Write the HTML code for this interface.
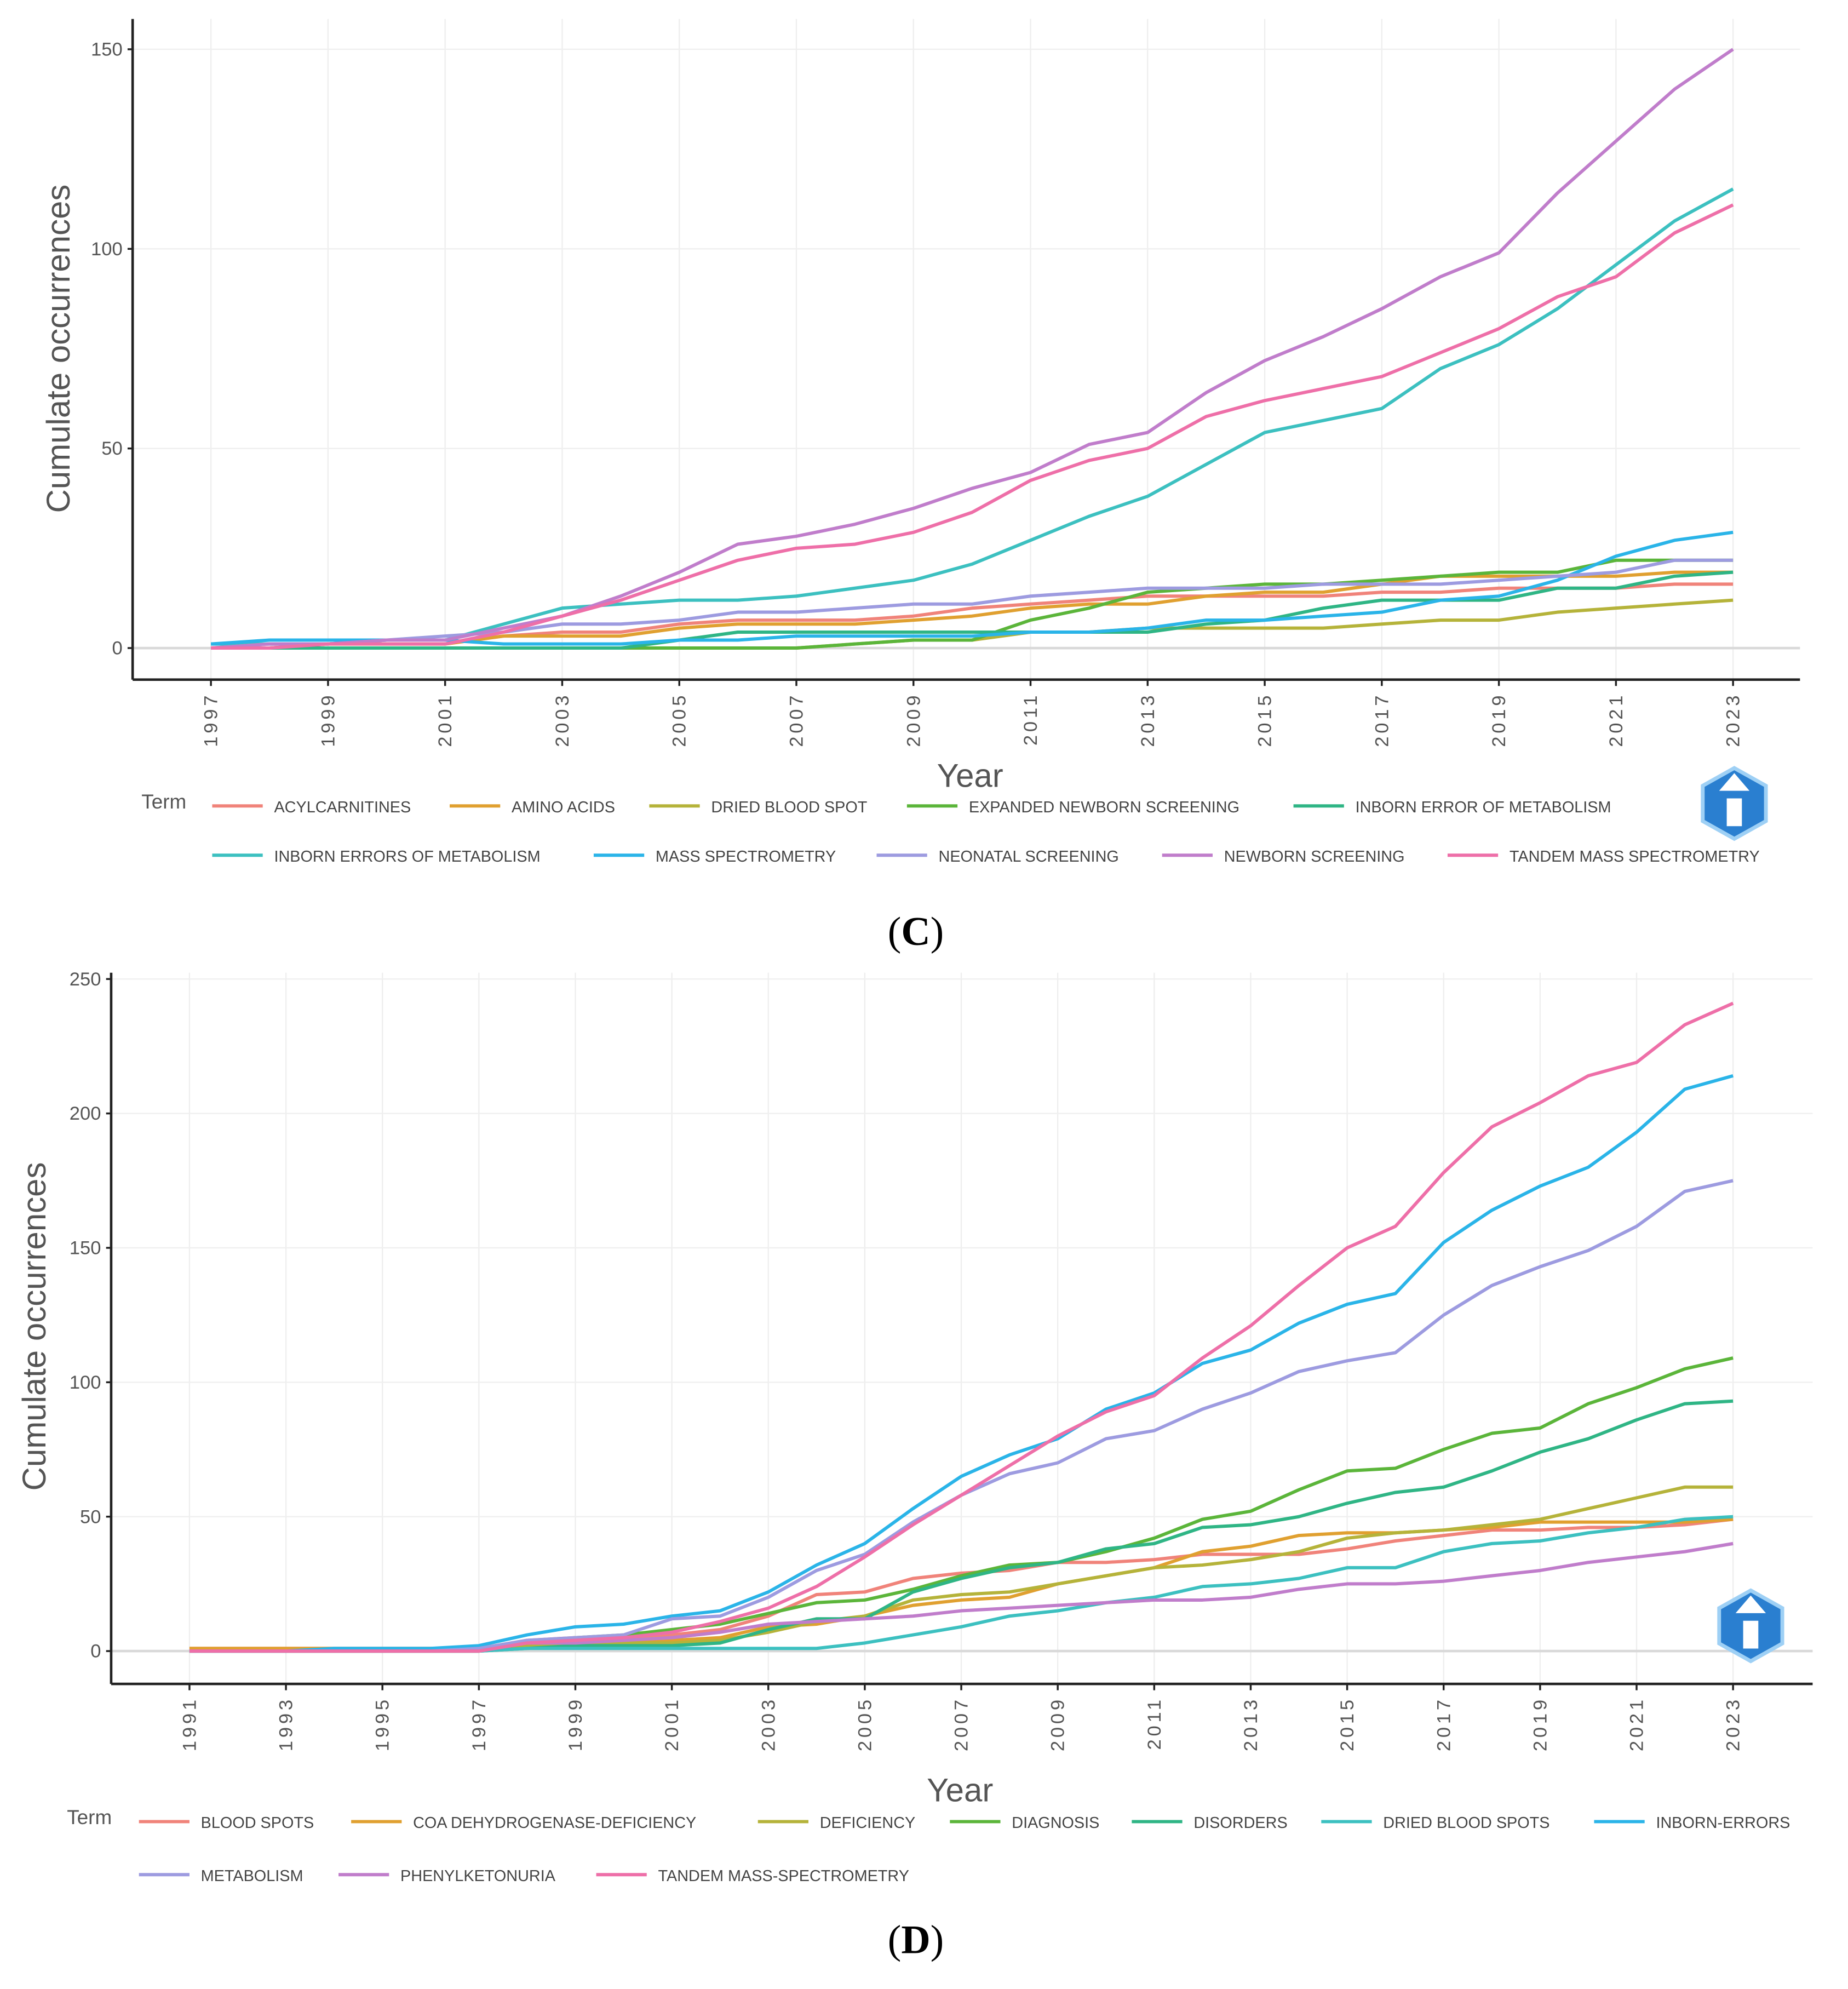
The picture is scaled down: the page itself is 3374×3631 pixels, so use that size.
<!DOCTYPE html>
<html><head><meta charset="utf-8"><style>
html,body{margin:0;padding:0;background:#fff}
svg{display:block}
text{font-family:"Liberation Sans",sans-serif}
</style></head><body>
<svg id="s" width="3374" height="3631" viewBox="0 0 1463 1574.5" preserveAspectRatio="none" xmlns="http://www.w3.org/2000/svg">
<rect width="1463" height="1574.5" fill="#fff"/>
<text x="725" y="748" text-anchor="middle" font-size="32" style="font-family:'Liberation Serif',serif">(<tspan font-weight="bold">C</tspan>)</text>
<text x="725" y="1546" text-anchor="middle" font-size="32" style="font-family:'Liberation Serif',serif">(<tspan font-weight="bold">D</tspan>)</text>
</svg>
<script>
const cYears=[];for(let y=1997;y<=2023;y++)cYears.push(y);
const cTerms=["ACYLCARNITINES","AMINO ACIDS","DRIED BLOOD SPOT","EXPANDED NEWBORN SCREENING","INBORN ERROR OF METABOLISM","INBORN ERRORS OF METABOLISM","MASS SPECTROMETRY","NEONATAL SCREENING","NEWBORN SCREENING","TANDEM MASS SPECTROMETRY"];
const cAcyl=[0,0,1,1,1,3,4,4,6,7,7,7,8,10,11,12,13,13,13,13,14,14,15,15,15,16,16];
const cAmino=[0,0,1,1,1,3,3,3,5,6,6,6,7,8,10,11,11,13,14,14,16,18,18,18,18,19,19];
const cDbs=[0,0,0,0,0,0,0,0,0,0,0,1,2,2,4,4,5,5,5,5,6,7,7,9,10,11,12];
const cExp=[0,0,0,0,0,0,0,0,0,0,0,1,2,2,7,10,14,15,16,16,17,18,19,19,22,22,22];
const cIem=[0,0,0,0,0,0,0,0,2,4,4,4,4,4,4,4,4,6,7,10,12,12,12,15,15,18,19];
const cIems=[1,1,1,2,2,6,10,11,12,12,13,15,17,21,27,33,38,46,54,57,60,70,76,85,96,107,115];
const cMs=[1,2,2,2,2,1,1,1,2,2,3,3,3,3,4,4,5,7,7,8,9,12,13,17,23,27,29];
const cNeo=[0,1,1,2,3,4,6,6,7,9,9,10,11,11,13,14,15,15,15,16,16,16,17,18,19,22,22];
const cNbs=[0,1,1,2,2,5,8,13,19,26,28,31,35,40,44,51,54,64,72,78,85,93,99,114,127,140,150];
const cTms=[0,0,1,1,1,4,8,12,17,22,25,26,29,34,42,47,50,58,62,65,68,74,80,88,93,104,111];
const cSeries=[cAcyl,cAmino,cDbs,cExp,cIem,cIems,cMs,cNeo,cNbs,cTms];
const cYTicks=[0,50,100,150];
const cXTicks=[1997,1999,2001,2003,2005,2007,2009,2011,2013,2015,2017,2019,2021,2023];

const dYears=[];for(let y=1991;y<=2023;y++)dYears.push(y);
const dTerms=["BLOOD SPOTS","COA DEHYDROGENASE-DEFICIENCY","DEFICIENCY","DIAGNOSIS","DISORDERS","DRIED BLOOD SPOTS","INBORN-ERRORS","METABOLISM","PHENYLKETONURIA","TANDEM MASS-SPECTROMETRY"];
const dBlood=[1,1,1,1,1,1,1,4,5,5,6,8,13,21,22,27,29,30,33,33,34,36,36,36,38,41,43,45,45,46,46,47,49];
const dCoa=[1,1,1,1,1,1,1,2,3,4,4,5,9,10,13,17,19,20,25,28,31,37,39,43,44,44,45,46,48,48,48,48,49];
const dDef=[0,0,0,0,0,0,0,2,3,3,3,4,7,11,13,19,21,22,25,28,31,32,34,37,42,44,45,47,49,53,57,61,61];
const dDiag=[0,0,0,0,0,0,0,3,5,6,8,10,14,18,19,23,28,32,33,37,42,49,52,60,67,68,75,81,83,92,98,105,109];
const dDis=[0,0,0,0,0,0,0,1,2,2,2,3,8,12,12,22,27,31,33,38,40,46,47,50,55,59,61,67,74,79,86,92,93];
const dDbs=[0,0,0,0,0,0,0,1,1,1,1,1,1,1,3,6,9,13,15,18,20,24,25,27,31,31,37,40,41,44,46,49,50];
const dInborn=[0,0,0,1,1,1,2,6,9,10,13,15,22,32,40,53,65,73,79,90,96,107,112,122,129,133,152,164,173,180,193,209,214];
const dMetab=[0,0,0,0,0,0,1,4,5,6,12,13,20,30,36,48,58,66,70,79,82,90,96,104,108,111,125,136,143,149,158,171,175];
const dPku=[0,0,0,0,0,0,0,3,3,4,5,7,10,11,12,13,15,16,17,18,19,19,20,23,25,25,26,28,30,33,35,37,40];
const dTandem=[0,0,0,0,0,0,0,3,4,5,7,11,16,24,35,47,58,69,80,89,95,109,121,136,150,158,178,195,204,214,219,233,241];
const dSeries=[dBlood,dCoa,dDef,dDiag,dDis,dDbs,dInborn,dMetab,dPku,dTandem];
const dYTicks=[0,50,100,150,200,250];
const dXTicks=[1991,1993,1995,1997,1999,2001,2003,2005,2007,2009,2011,2013,2015,2017,2019,2021,2023];

const colors=["#F0837A","#E0A030","#B5B33A","#5BB53A","#2FB585","#3CC0C0","#2AB4E8","#9D9BE0","#C07DCB","#EE6FA8"];
const NS="http://www.w3.org/2000/svg";
const svg=document.getElementById('s');
function el(tag,attrs,parent,txt){const e=document.createElementNS(NS,tag);for(const k in attrs)e.setAttribute(k,attrs[k]);if(txt!==undefined)e.textContent=txt;(parent||svg).appendChild(e);return e;}

function chart(cfg){
  const g=el('g',{});
  
  
  const X=v=>cfg.x0+(v-cfg.xmin)*(cfg.x1-cfg.x0)/(cfg.xmax-cfg.xmin);
  const Y=v=>cfg.y0+(v-0)*(cfg.y1-cfg.y0)/(cfg.ymax);
  // grid
  for(let yr=cfg.xmin;yr<=cfg.xmax;yr+=2){const l=el('line',{x1:X(yr),x2:X(yr),y1:cfg.top,y2:cfg.axisY,stroke:'#eeeeee','stroke-width':1},g);}
  cfg.yticks.forEach(t=>{const l=el('line',{x1:cfg.axisX,x2:cfg.right,y1:Y(t),y2:Y(t),stroke:t===0?'#d9d9d9':'#efefef','stroke-width':t===0?2:1},g);});
  // series
  cfg.series.forEach((s,i)=>{
    const pts=s.map((v,j)=>X(cfg.years[j]).toFixed(1)+','+Y(v).toFixed(1)).join(' ');
    const p=el('polyline',{points:pts,fill:'none',stroke:colors[i],'stroke-width':2.6,'stroke-linejoin':'round'},g);
    
    
  });
  // axes
  const ya=el('line',{x1:cfg.axisX,x2:cfg.axisX,y1:cfg.top,y2:cfg.axisY,stroke:'#222','stroke-width':2},g);
  
  const xa=el('line',{x1:cfg.axisX,x2:cfg.right,y1:cfg.axisY,y2:cfg.axisY,stroke:'#222','stroke-width':2},g);
  
  cfg.yticks.forEach(t=>{
    el('line',{x1:cfg.axisX-4,x2:cfg.axisX,y1:Y(t),y2:Y(t),stroke:'#222','stroke-width':1.5},g);
    const tx=el('text',{x:cfg.axisX-8,y:Y(t)+5,'text-anchor':'end','font-size':15,fill:'#555'},g,t);
    
  });
  cfg.xticks.forEach(t=>{
    el('line',{x1:X(t),x2:X(t),y1:cfg.axisY,y2:cfg.axisY+5,stroke:'#222','stroke-width':1.5},g);
    const tx=el('text',{x:0,y:0,'text-anchor':'end','font-size':15,fill:'#555','letter-spacing':'2.5',transform:`translate(${X(t)+5},${cfg.axisY+10}) rotate(-90)`},g,t);
    
  });
  const yt=el('text',{x:0,y:0,'text-anchor':'middle','font-size':26,fill:'#555',transform:`translate(${cfg.ytitleX},${cfg.ytitleY}) rotate(-90)`},g,'Cumulate occurrences');
  
  const xt=el('text',{x:cfg.xtitleX,y:cfg.xtitleY,'text-anchor':'middle','font-size':26,fill:'#555'},g,'Year');
  
  // legend
  const lt=el('text',{x:cfg.termX,y:cfg.termY,'font-size':16,fill:'#555'},g,'Term');
  
  cfg.legend.forEach((pos,i)=>{
    const lg=el('g',{},g);
    
    
    el('line',{x1:pos[0],x2:pos[0]+40,y1:pos[1],y2:pos[1],stroke:colors[i],'stroke-width':2.6},lg);
    el('text',{x:pos[0]+49,y:pos[1]+5,'font-size':12.5,fill:'#444'},lg,cfg.terms[i]);
  });
  // logo
  const lx=cfg.logo[0],ly=cfg.logo[1];
  const lg=el('g',{},g);
  
  el('polygon',{points:`${lx},${ly-28} ${lx+25},${ly-14} ${lx+25},${ly+14} ${lx},${ly+28} ${lx-25},${ly+14} ${lx-25},${ly-14}`,fill:'#2A7FD0',stroke:'#9ED0F5','stroke-width':3},lg);
  el('polygon',{points:`${lx},${ly-24} ${lx+12},${ly-10} ${lx-12},${ly-10}`,fill:'#fff'},lg);
  el('rect',{x:lx-6,y:ly-4,width:12,height:22,fill:'#fff'},lg);
}

chart({name:'chart-c',years:cYears,series:cSeries,terms:cTerms,yticks:cYTicks,xticks:cXTicks,
  xmin:1997,xmax:2023,x0:167,x1:1372,ymax:150,y0:513,y1:39,top:15,axisX:105,axisY:538,right:1425,
  ytitleX:55,ytitleY:276,xtitleX:768,xtitleY:623,termX:112,termY:640,
  legend:[[168,638],[356,638],[514,638],[718,638],[1024,638],[168,677],[470,677],[694,677],[920,677],[1146,677]],
  logo:[1373,636]});
chart({name:'chart-d',years:dYears,series:dSeries,terms:dTerms,yticks:dYTicks,xticks:dXTicks,
  xmin:1991,xmax:2023,x0:150,x1:1372,ymax:250,y0:1307,y1:775,top:770,axisX:88,axisY:1333,right:1435,
  ytitleX:36,ytitleY:1050,xtitleX:760,xtitleY:1426,termX:53,termY:1444,
  legend:[[110,1442],[278,1442],[600,1442],[752,1442],[896,1442],[1046,1442],[1262,1442],[110,1484],[268,1484],[472,1484]],
  logo:[1386,1287]});
</script>
</body></html>
